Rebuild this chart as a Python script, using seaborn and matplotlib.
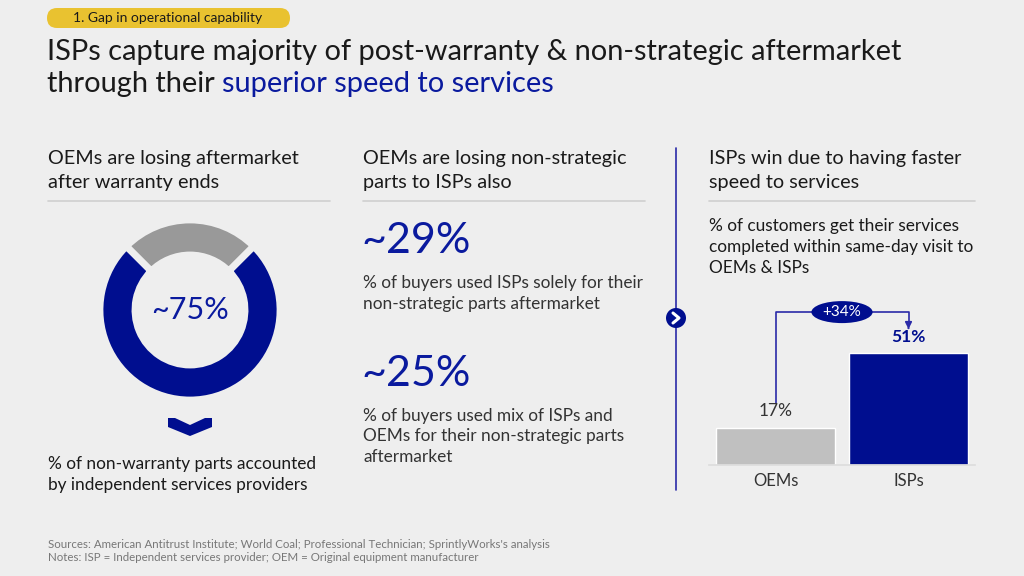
import seaborn as sns
import matplotlib.pyplot as plt
import pandas as pd
import numpy as np
from matplotlib.patches import FancyBboxPatch, Ellipse, Circle, Polygon

# data
donut_labels = ["ISPs", "OEMs"]
donut_values = [25, 75]          # gray (OEM retained), blue (ISP share)
stat_values = [29, 25]
bar_categories = ["OEMs", "ISPs"]
bar_values = [17, 51]
uplift = "+34%"

BG = "#EEEEEE"
NAVY = "#000E8F"
TITLE_BLUE = "#0A1A9E"
DARK = "#1A1A1A"
TXT = "#333333"
LINE = "#CFCFCF"

sns.set_theme(style="white")
plt.rcParams["font.family"] = ["Lato", "DejaVu Sans"]

fig = plt.figure(figsize=(10.24, 5.76), dpi=100, facecolor=BG)

# overlay axes in pixel coordinates
ov = fig.add_axes([0, 0, 1, 1])
ov.set_xlim(0, 1024)
ov.set_ylim(576, 0)
ov.axis("off")
ov.patch.set_alpha(0)

# badge
ov.add_patch(FancyBboxPatch((47, 8), 243, 20, boxstyle="round,pad=0,rounding_size=10",
                            fc="#E9C230", ec="none"))
ov.text(168, 18.5, "1. Gap in operational capability", fontsize=10, color=DARK,
        ha="center", va="center")

# title
ov.text(47, 60, "ISPs capture majority of post-warranty & non-strategic aftermarket",
        fontsize=20.9, color=DARK, va="baseline")
t1 = ov.text(47, 92, "through their ", fontsize=20.9, color=DARK, va="baseline")
ov.annotate("superior speed to services", xycoords=t1, xy=(1, 0), va="bottom",
            fontsize=20.9, color=TITLE_BLUE)

# column headers
cols_x = [48, 363, 709]
headers = [["OEMs are losing aftermarket", "after warranty ends"],
           ["OEMs are losing non-strategic", "parts to ISPs also"],
           ["ISPs win due to having faster", "speed to services"]]
for x, lines in zip(cols_x, headers):
    for j, ln in enumerate(lines):
        ov.text(x, 164 + j * 24, ln, fontsize=14.3, color=DARK, va="baseline")
for x0, x1 in [(48, 330), (363, 645), (709, 975)]:
    ov.plot([x0, x1], [201, 201], color=LINE, lw=1.2)

# middle column stats
stat_desc = [["% of buyers used ISPs solely for their", "non-strategic parts aftermarket"],
             ["% of buyers used mix of ISPs and", "OEMs for their non-strategic parts",
              "aftermarket"]]
for k, (v, desc) in enumerate(zip(stat_values, stat_desc)):
    y0 = 253 + k * 133
    ov.text(361, y0, f"~{v}%", fontsize=31, color=TITLE_BLUE, va="baseline")
    for j, ln in enumerate(desc):
        ov.text(363, y0 + 35 + j * 20.5, ln, fontsize=12.4, color=TXT, va="baseline")

# left column description
for j, ln in enumerate(["% of non-warranty parts accounted", "by independent services providers"]):
    ov.text(48, 469 + j * 21, ln, fontsize=12.4, color=DARK, va="baseline")

# right column description
for j, ln in enumerate(["% of customers get their services",
                        "completed within same-day visit to", "OEMs & ISPs"]):
    ov.text(709, 231 + j * 21, ln, fontsize=12.4, color=DARK, va="baseline")

# chevron under donut
ov.add_patch(Polygon([[168, 418], [175, 418], [190, 425], [205, 418], [212, 418],
                      [212, 427], [190, 436], [168, 427]], closed=True, fc=NAVY, ec="none"))

# divider line with icon
ov.plot([676, 676], [148, 490], color="#2A2AA8", lw=1.2)
ov.add_patch(Circle((676, 318), 10, fc=NAVY, ec="none", zorder=3))
ov.plot([673, 679, 673], [313, 318, 323], color="white", lw=2.2, zorder=4,
        solid_capstyle="round", solid_joinstyle="round")

# footer
ov.text(48, 548, "Sources: American Antitrust Institute; World Coal; Professional Technician; "
        "SprintlyWorks's analysis", fontsize=8.3, color="#777777", va="baseline")
ov.text(48, 561, "Notes: ISP = Independent services provider; OEM = Original equipment manufacturer",
        fontsize=8.3, color="#777777", va="baseline")

# donut
dax = fig.add_axes([(190 - 100) / 1024, (576 - 410) / 576, 200 / 1024, 200 / 576])
dax.set_aspect("equal")
dax.pie(donut_values, colors=["#999999", NAVY], startangle=45, counterclock=True,
        radius=1.0, wedgeprops=dict(width=0.39, edgecolor=BG, linewidth=5))
dax.set_xlim(-1.11, 1.11)
dax.set_ylim(-1.11, 1.11)
dax.text(0, 0, f"~{donut_values[1]}%", ha="center", va="center", fontsize=22, color=TITLE_BLUE)

# bar chart
bax = fig.add_axes([709 / 1024, (576 - 465) / 576, 266 / 1024, 132 / 576])
bax.patch.set_alpha(0)
df = pd.DataFrame({"cat": bar_categories, "val": bar_values})
sns.barplot(data=df, x="cat", y="val", hue="cat", palette=["#C0C0C0", NAVY],
            saturation=1, width=0.9, legend=False, ax=bax)
bax.set_ylim(0, 60)
bax.set_xlim(-0.5, 1.5)
bax.set_xlabel("")
bax.set_ylabel("")
bax.set_yticks([])
sns.despine(ax=bax, left=True)
bax.spines["bottom"].set_color("#DDDDDD")
bax.tick_params(axis="x", length=0, labelsize=12, labelcolor=TXT, pad=6)

bax.text(0, bar_values[0] + 4, f"{bar_values[0]}%", ha="center", va="bottom",
         fontsize=12.5, color=TXT)
bax.text(1, bar_values[1] + 3.5, f"{bar_values[1]}%", ha="center", va="bottom",
         fontsize=12.5, color=NAVY, fontweight="bold")

# bracket with uplift
top = bar_values[1] + 18.5
bax.plot([0, 0, 1, 1], [bar_values[0] + 11, top, top, bar_values[1] + 12],
         color="#2A2AA8", lw=1.2, clip_on=False)
bax.annotate("", xy=(1, bar_values[1] + 9.5), xytext=(1, bar_values[1] + 12.5),
             arrowprops=dict(arrowstyle="-|>", color="#2A2AA8", lw=1.2,
                             mutation_scale=10), annotation_clip=False)
bax.add_patch(Ellipse((0.5, top), 0.46, 10, fc=NAVY, ec="none", clip_on=False, zorder=3))
bax.text(0.5, top, uplift, ha="center", va="center", fontsize=11, color="white", zorder=4)

fig.savefig("out.png", dpi=100, facecolor=BG)
